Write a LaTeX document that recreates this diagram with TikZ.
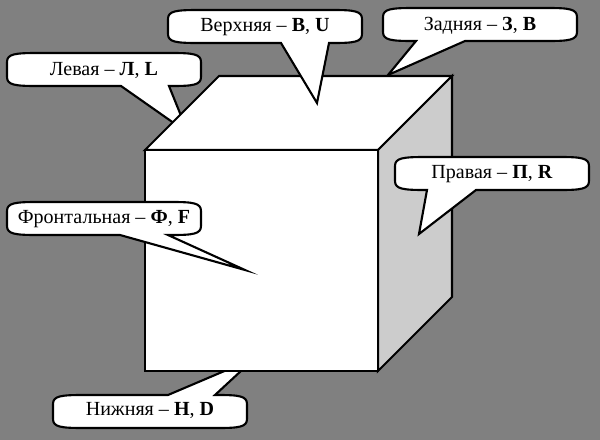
\documentclass[tikz,border=0pt]{standalone}
\usepackage{fontspec}
\setmainfont{Liberation Serif}
\definecolor{backgray}{HTML}{808080}
\definecolor{lightface}{HTML}{CCCCCC}
\newcommand{\bubble}[7]{%
	\begin{scope}[#2]
		\draw[bubbleline] (#3,33)--(#5,#6)--(#4,33)--(165,33)
			.. controls (186,33) and (194,32) .. (194,24)--(194,9)
			.. controls (194,1) and (186,0) .. (165,0)--(30,0)
			.. controls (8,0) and (0,1) .. (0,9)--(0,24)
			.. controls (0,32) and (8,33) .. (30,33)--cycle;
		\node[bubbletext] (#1) at (97,17.5) {#7};
	\end{scope}}
\begin{document}
\begin{tikzpicture}[x=0.02cm,y=-0.02cm,line width=1.2pt,
		bubbleline/.style={draw=black,fill=white,miter limit=20},
		bubbletext/.style={font=\fontsize{11.4pt}{13pt}\selectfont,inner sep=0pt}]
	\useasboundingbox (0,0) rectangle (600,440);
	\fill[backgray] (0,0) rectangle (600,440);
	% behind the cube
	\bubble{levaya}{shift={(7,53)}}{114}{162}{181}{80}{Левая -- \textbf{Л}, \textbf{L}}
	\bubble{zadnyaya}{shift={(383,8)}}{33}{82}{5}{67}{Задняя -- \textbf{З}, \textbf{B}}
	\bubble{nizhnyaya}{shift={(53,428)},yscale=-1}{115}{162}{202}{70}{Нижняя -- \textbf{Н}, \textbf{D}}
	% cube
	\draw[fill=white,line join=miter] (145,150)--(219,76)--(452,76)--(378,150)--cycle;
	\draw[fill=lightface,line join=miter] (378,150)--(452,76)--(452,297)--(378,371)--cycle;
	\draw[fill=white,line join=miter] (145,150) rectangle (378,371);
	% in front of the cube
	\bubble{verkhnyaya}{shift={(168,10)}}{113}{161}{149}{93}{Верхняя -- \textbf{В}, \textbf{U}}
	\bubble{pravaya}{shift={(395,157)}}{32}{81}{24}{77}{Правая -- \textbf{П}, \textbf{R}}
	\bubble{frontalnaya}{shift={(7,202)}}{113}{161}{238}{68}{Фронтальная -- \textbf{Ф}, \textbf{F}}
\end{tikzpicture}
\end{document}
